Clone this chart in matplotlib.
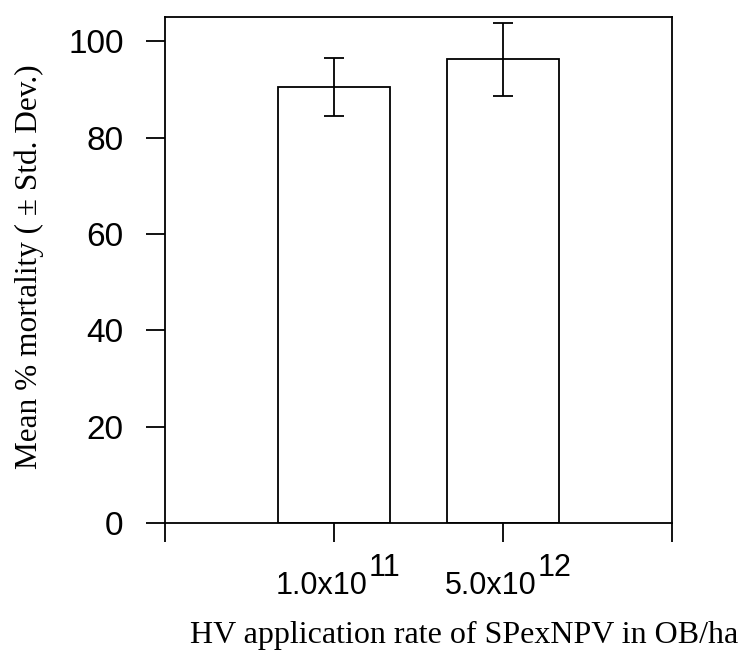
import matplotlib
matplotlib.use("Agg")
from matplotlib import pyplot as plt
from matplotlib.transforms import offset_copy

# data
positions = [1, 2]
means = [90.5, 96.2]
std_devs = [6.1, 7.5]
base_labels = ["1.0x10", "5.0x10"]
exponents = ["11", "12"]
y_ticks = [0, 20, 40, 60, 80, 100]

sans = "Liberation Sans"
serif = "Liberation Serif"
px = 0.72  # points per pixel at 100 dpi

fig = plt.figure(figsize=(7.43, 6.53), dpi=100)
ax = fig.add_axes([165 / 743, 1 - 523.3 / 653, (672 - 165) / 743, (523.3 - 17) / 653])

ax.bar(positions, means, width=0.66, color="white", edgecolor="black", linewidth=1.3)
ax.errorbar(positions, means, yerr=std_devs, fmt="none", ecolor="black",
            elinewidth=1.3, capsize=7.2, capthick=1.3)

ax.set_xlim(0, 3)
ax.set_ylim(0, 105)
ax.set_yticks(y_ticks)
ax.set_xticks([0, 1, 2, 3])
ax.set_xticklabels([])
for lbl in ax.get_yticklabels():
    lbl.set_fontfamily(sans)
    lbl.set_fontsize(24)
ax.tick_params(axis="both", direction="out", length=13.7, width=1.3, color="black")
ax.tick_params(axis="y", pad=16)
for sp in ax.spines.values():
    sp.set_linewidth(1.3)

# tick labels with a full-size raised exponent
for pos, base, exp in zip(positions, base_labels, exponents):
    tr = offset_copy(ax.get_xaxis_transform(), fig=fig, x=34 * px, y=-71 * px, units="points")
    ax.text(pos, 0, base, transform=tr, ha="right", va="baseline",
            fontfamily=sans, fontsize=22, clip_on=False)
    tr2 = offset_copy(ax.get_xaxis_transform(), fig=fig, x=35 * px, y=-53 * px, units="points")
    ax.text(pos, 0, exp, transform=tr2, ha="left", va="baseline",
            fontfamily=sans, fontsize=22, clip_on=False)

fig.text(29 / 743, 1 - 266.5 / 653, "Mean % mortality ( \u00b1 Std. Dev.)", rotation=90,
         ha="center", va="center", fontfamily=serif, fontsize=22.5)
fig.text(464 / 743, 1 - 643 / 653, "HV application rate of SPexNPV in OB/ha",
         ha="center", va="baseline", fontfamily=serif, fontsize=23)

fig.savefig("out.png", dpi=100)
